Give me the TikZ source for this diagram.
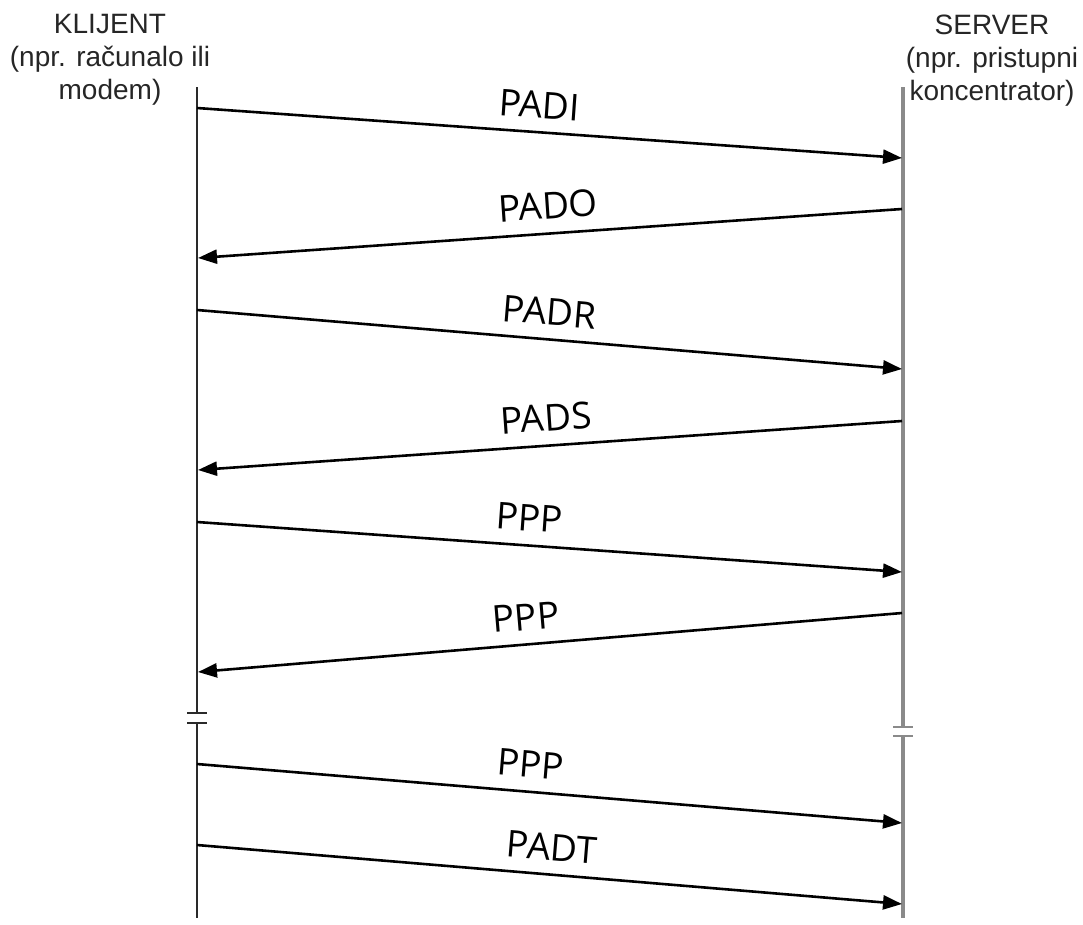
\documentclass[tikz,border=0pt]{standalone}
\usepackage{fontspec}
\setmainfont{Liberation Sans}
\newfontfamily\lblfont{Open Sans}
\usetikzlibrary{arrows.meta}
\definecolor{hdr}{HTML}{262626}
\definecolor{lifeL}{HTML}{2A2A2A}
\definecolor{lifeR}{HTML}{8A8A8A}
\tikzset{
  hdrtext/.style={font=\fontsize{28}{33}\selectfont, text=hdr, align=center, inner sep=0pt, anchor=north},
  lifelineL/.style={line width=2.6pt, lifeL},
  lifelineR/.style={line width=3.6pt, lifeR},
  msg/.style={line width=2.6pt, black, -{Triangle[length=19pt,width=14pt]}},
  lbl/.style={sloped, above=13pt, inner sep=0pt, font=\lblfont\fontsize{37}{40}\selectfont},
  brkL/.style={line width=2.4pt, lifeL},
  brkR/.style={line width=2.8pt, lifeR}
}
\begin{document}
\begin{tikzpicture}[x=1pt,y=-1pt]
\useasboundingbox (0,0) rectangle (1083,924);
% headers
\node[hdrtext] (klijent) at (110,14) {KLIJENT\\(npr. računalo ili\\modem)};
\node[hdrtext] (server) at (992,15) {SERVER\\(npr. pristupni\\koncentrator)};
% lifeline coordinates
\coordinate (Ltop) at (197,87);
\coordinate (Lb1) at (197,713);
\coordinate (Lb2) at (197,723);
\coordinate (Lbot) at (197,918);
\coordinate (Rtop) at (903,87);
\coordinate (Rb1) at (903,727);
\coordinate (Rb2) at (903,736);
\coordinate (Rbot) at (903,918);
\draw[lifelineL] (Ltop) -- (Lb1) (Lb2) -- (Lbot);
\draw[lifelineR] (Rtop) -- (Rb1) (Rb2) -- (Rbot);
% break marks
\draw[brkL] ([xshift=-10pt]Lb1) -- ([xshift=10pt]Lb1);
\draw[brkL] ([xshift=-10pt]Lb2) -- ([xshift=10pt]Lb2);
\draw[brkR] ([xshift=-10pt]Rb1) -- ([xshift=10pt]Rb1);
\draw[brkR] ([xshift=-10pt]Rb2) -- ([xshift=10pt]Rb2);
% message end points
\coordinate (l1) at (197,108); \coordinate (r1) at (902,158);
\coordinate (r2) at (902,209); \coordinate (l2) at (198,258);
\coordinate (l3) at (197,310); \coordinate (r3) at (902,369);
\coordinate (r4) at (902,421); \coordinate (l4) at (198,470);
\coordinate (l5) at (197,522); \coordinate (r5) at (902,572);
\coordinate (r6) at (902,613); \coordinate (l6) at (198,672);
\coordinate (l7) at (197,764); \coordinate (r7) at (902,823);
\coordinate (l8) at (197,845); \coordinate (r8) at (902,904);
% messages
\draw[msg] (l1) -- node[lbl, pos=0.483] (t1) {PADI} (r1);
\draw[msg] (r2) -- node[lbl, pos=0.50] (t2) {PADO} (l2);
\draw[msg] (l3) -- node[lbl, pos=0.497] (t3) {PADR} (r3);
\draw[msg] (r4) -- node[lbl, pos=0.503] (t4) {PADS} (l4);
\draw[msg] (l5) -- node[lbl, pos=0.469] (t5) {PPP} (r5);
\draw[msg] (r6) -- node[lbl, pos=0.531] (t6) {PPP} (l6);
\draw[msg] (l7) -- node[lbl, pos=0.470] (t7) {PPP} (r7);
\draw[msg] (l8) -- node[lbl, pos=0.500] (t8) {PADT} (r8);
\end{tikzpicture}
\end{document}
